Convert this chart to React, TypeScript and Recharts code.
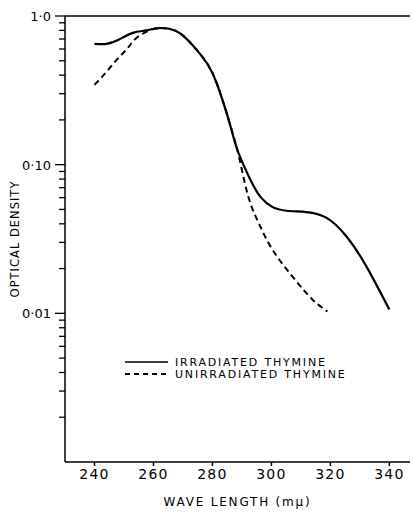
import React from 'react';
import { LineChart, Line, XAxis, YAxis, ReferenceLine } from 'recharts';

const irrWl = [240, 244, 248, 253, 257.6, 262, 267.8, 272.2, 276, 280, 283.4, 285.8, 288.1, 290.8, 293.6, 296.5, 300.3, 305.1, 311.9, 318.6, 325.4, 332.2, 340];
const irrOd = [0.65, 0.65, 0.69, 0.77, 0.8, 0.83, 0.79, 0.67, 0.55, 0.414, 0.273, 0.191, 0.132, 0.097, 0.074, 0.06, 0.052, 0.049, 0.048, 0.044, 0.033, 0.0207, 0.0106];

const unWl = [240, 244, 247.5, 251, 254.2, 258.6, 262, 267.8, 272.2, 276, 280, 283.4, 285.8, 288.5, 290.8, 293, 295.9, 300.3, 307.1, 313.9, 319];
const unOd = [0.344, 0.42, 0.507, 0.6, 0.711, 0.8, 0.83, 0.79, 0.67, 0.55, 0.414, 0.273, 0.191, 0.124, 0.078, 0.054, 0.0396, 0.0269, 0.0177, 0.0124, 0.0103];

const xTicks = [240, 260, 280, 300, 320, 340];
const majorTicks = [1, 0.1, 0.01];
const majorLabels = ['1·0', '0·10', '0·01'];
const minorMult = [0.2, 0.3, 0.4, 0.5, 0.6, 0.7, 0.8, 0.9];
const decades = [1, 0.1, 0.01];

const seriesNames = ['IRRADIATED THYMINE', 'UNIRRADIATED THYMINE'];

const irrData = irrWl.map((w, i) => ({ wl: w, od: irrOd[i] }));
const unData = unWl.map((w, i) => ({ wl: w, od: unOd[i] }));

const yTicks: number[] = [];
decades.forEach((d) => {
  minorMult.forEach((m) => yTicks.push(+(d * m).toPrecision(3)));
  yTicks.push(d);
});
yTicks.sort((a, b) => a - b);

const FONT = '"DejaVu Sans", "Liberation Sans", sans-serif';

const YTick = (props: any) => {
  const { x, y, payload } = props;
  const v = payload.value;
  const idx = majorTicks.findIndex((m) => Math.abs(m - v) < 1e-9);
  const isMajor = idx >= 0;
  return (
    <g>
      <line x1={x - (isMajor ? 10 : 6)} x2={x} y1={y} y2={y} stroke="#000" strokeWidth={1.3} />
      {isMajor && (
        <text x={x - 14} y={y + 5} textAnchor="end" fontSize={13} fontFamily={FONT} fill="#000">
          {majorLabels[idx]}
        </text>
      )}
    </g>
  );
};

const YLabel = (p: any) => {
  const vb = p.viewBox || {};
  const cy = (vb.y ?? 16) + (vb.height ?? 446) / 2;
  return (
    <text x={19} y={cy} transform={`rotate(-90, 19, ${cy})`} textAnchor="middle" fontSize={11.5} fontFamily={FONT} letterSpacing={1} fill="#000">
      OPTICAL DENSITY
    </text>
  );
};

export default function App() {
  return (
    <div style={{ position: 'absolute', left: 0, top: 0, width: 413, height: 512, background: '#fff' }}>
      <LineChart width={413} height={512} margin={{ top: 16, right: 3, bottom: 20, left: 0 }}>
        <XAxis
          type="number"
          dataKey="wl"
          domain={[230, 347]}
          ticks={xTicks}
          allowDataOverflow
          tickSize={4}
          tickMargin={3}
          height={30}
          stroke="#000"
          strokeWidth={1.5}
          tick={{ fontSize: 14, fontFamily: FONT, fill: '#000', letterSpacing: 1.2 }}
          label={{ value: 'WAVE LENGTH (mμ)', position: 'insideBottom', offset: -14, fontSize: 12, fontFamily: FONT, fill: '#000', letterSpacing: 1.8 }}
        />
        <YAxis
          scale="log"
          domain={[0.001, 1]}
          allowDataOverflow
          ticks={yTicks}
          interval={0}
          width={65}
          tickSize={0}
          tickMargin={0}
          tickLine={false}
          stroke="#000"
          strokeWidth={1.5}
          tick={<YTick />}
          label={<YLabel />}
        />
        <ReferenceLine y={1} stroke="#000" strokeWidth={1.5} />
        <Line data={irrData} dataKey="od" type="natural" stroke="#000" strokeWidth={2.2} dot={false} isAnimationActive={false} name={seriesNames[0]} />
        <Line data={unData} dataKey="od" type="natural" stroke="#000" strokeWidth={2} strokeDasharray="6 4" dot={false} isAnimationActive={false} name={seriesNames[1]} />
      </LineChart>
      <svg width={260} height={30} style={{ position: 'absolute', left: 120, top: 355 }}>
        <line x1={5} x2={48} y1={7} y2={7} stroke="#000" strokeWidth={1.5} />
        <text x={55} y={11} fontSize={11} fontFamily={FONT} letterSpacing={1.8} fill="#000">{seriesNames[0]}</text>
        <line x1={5} x2={48} y1={19} y2={19} stroke="#000" strokeWidth={2} strokeDasharray="5 4" />
        <text x={55} y={23} fontSize={11} fontFamily={FONT} letterSpacing={1.8} fill="#000">{seriesNames[1]}</text>
      </svg>
    </div>
  );
}
